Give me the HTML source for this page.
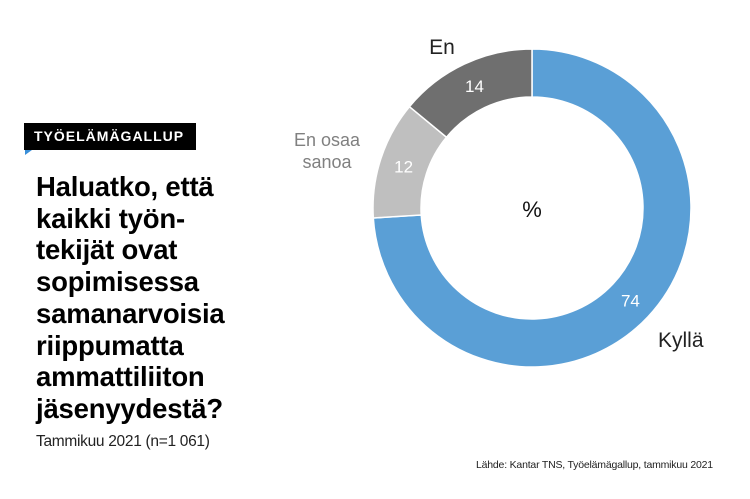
<!DOCTYPE html>
<html><head><meta charset="utf-8"><style>
body{margin:0;width:750px;height:499px;background:#fff;font-family:"Liberation Sans",sans-serif;position:relative;overflow:hidden}
.badge{position:absolute;left:24px;top:123px;width:172px;height:27px;background:#000;color:#fff;font-weight:bold;font-size:14px;letter-spacing:1px;line-height:27px;padding-left:10px;box-sizing:border-box}
.tri{position:absolute;left:25px;top:150px;width:0;height:0;border-top:5px solid #3a8fd8;border-left:7px solid transparent;transform:scaleX(-1)}
.title{position:absolute;left:36px;top:171px;font-size:27.5px;font-weight:bold;line-height:31.7px;color:#000;letter-spacing:-0.2px}
.sub{position:absolute;left:36px;top:433px;font-size:15.5px;color:#222;letter-spacing:-0.3px}
.src{position:absolute;left:476px;top:459px;font-size:10.5px;color:#222;letter-spacing:-0.2px}
svg{position:absolute;left:0;top:0}
</style></head><body>
<div class="badge">TYÖELÄMÄGALLUP</div>
<div class="tri"></div>
<div class="title">Haluatko, että<br>kaikki työn-<br>tekijät ovat<br>sopimisessa<br>samanarvoisia<br>riippumatta<br>ammattiliiton<br>jäsenyydestä?</div>
<div class="sub">Tammikuu 2021 (n=1 061)</div>
<div class="src">Lähde: Kantar TNS, Työelämägallup, tammikuu 2021</div>
<svg id="chart" width="750" height="499"></svg>
<script>
const categories=["Kyllä","En osaa sanoa","En"];
const values=[74,12,14];
const colors=["#5a9fd6","#bfbfbf","#6f6f6f"];
const labelLines=[["Kyllä"],["En osaa","sanoa"],["En"]];
const cx=532,cy=208,R=159,r=111;
const svg=document.getElementById('chart');
const NS="http://www.w3.org/2000/svg";
const total=values.reduce((a,b)=>a+b,0);
function pt(rad,frac){const a=frac*2*Math.PI;return [cx+rad*Math.sin(a),cy-rad*Math.cos(a)];}
let acc=0;
const labelPos=[[658,347,"#222",21,"start"],[327,146,"#808080",18,"middle"],[442,54,"#222",21,"middle"]];
values.forEach((v,i)=>{
  const f0=acc/total,f1=(acc+v)/total;acc+=v;
  const large=(f1-f0)>0.5?1:0;
  const [x0,y0]=pt(R,f0),[x1,y1]=pt(R,f1),[x2,y2]=pt(r,f1),[x3,y3]=pt(r,f0);
  const p=document.createElementNS(NS,'path');
  p.setAttribute('d',`M${x0},${y0}A${R},${R} 0 ${large} 1 ${x1},${y1}L${x2},${y2}A${r},${r} 0 ${large} 0 ${x3},${y3}Z`);
  p.setAttribute('fill',colors[i]);p.setAttribute('stroke','#fff');p.setAttribute('stroke-width','1.5');
  
  
  svg.appendChild(p);
  const fm=(f0+f1)/2;
  let [vx,vy]=pt((R+r)/2,fm);
  if(i===0){[vx,vy]=pt((R+r)/2,0.37);}
  const t=document.createElementNS(NS,'text');
  t.setAttribute('x',vx);t.setAttribute('y',vy+6);t.setAttribute('text-anchor','middle');
  t.setAttribute('fill','#fff');t.setAttribute('font-size','17');t.setAttribute('font-family','Liberation Sans, sans-serif');
  t.textContent=values[i];
  
  
  svg.appendChild(t);
  const lp=labelPos[i];
  const lt=document.createElementNS(NS,'text');
  lt.setAttribute('x',lp[0]);lt.setAttribute('y',lp[1]);lt.setAttribute('text-anchor',lp[4]);
  lt.setAttribute('fill',lp[2]);lt.setAttribute('font-size',lp[3]);lt.setAttribute('font-family','Liberation Sans, sans-serif');
  labelLines[i].forEach((s,k)=>{const ts=document.createElementNS(NS,'tspan');ts.setAttribute('x',lp[0]);ts.setAttribute('dy',k?22:0);ts.textContent=s;lt.appendChild(ts);});
  
  
  svg.appendChild(lt);
});
const c=document.createElementNS(NS,'text');
c.setAttribute('x',cx);c.setAttribute('y',cy+9);c.setAttribute('text-anchor','middle');c.setAttribute('font-size','22');c.setAttribute('fill','#111');c.setAttribute('font-family','Liberation Sans, sans-serif');
c.textContent='%';


svg.appendChild(c);
</script>
</body></html>
